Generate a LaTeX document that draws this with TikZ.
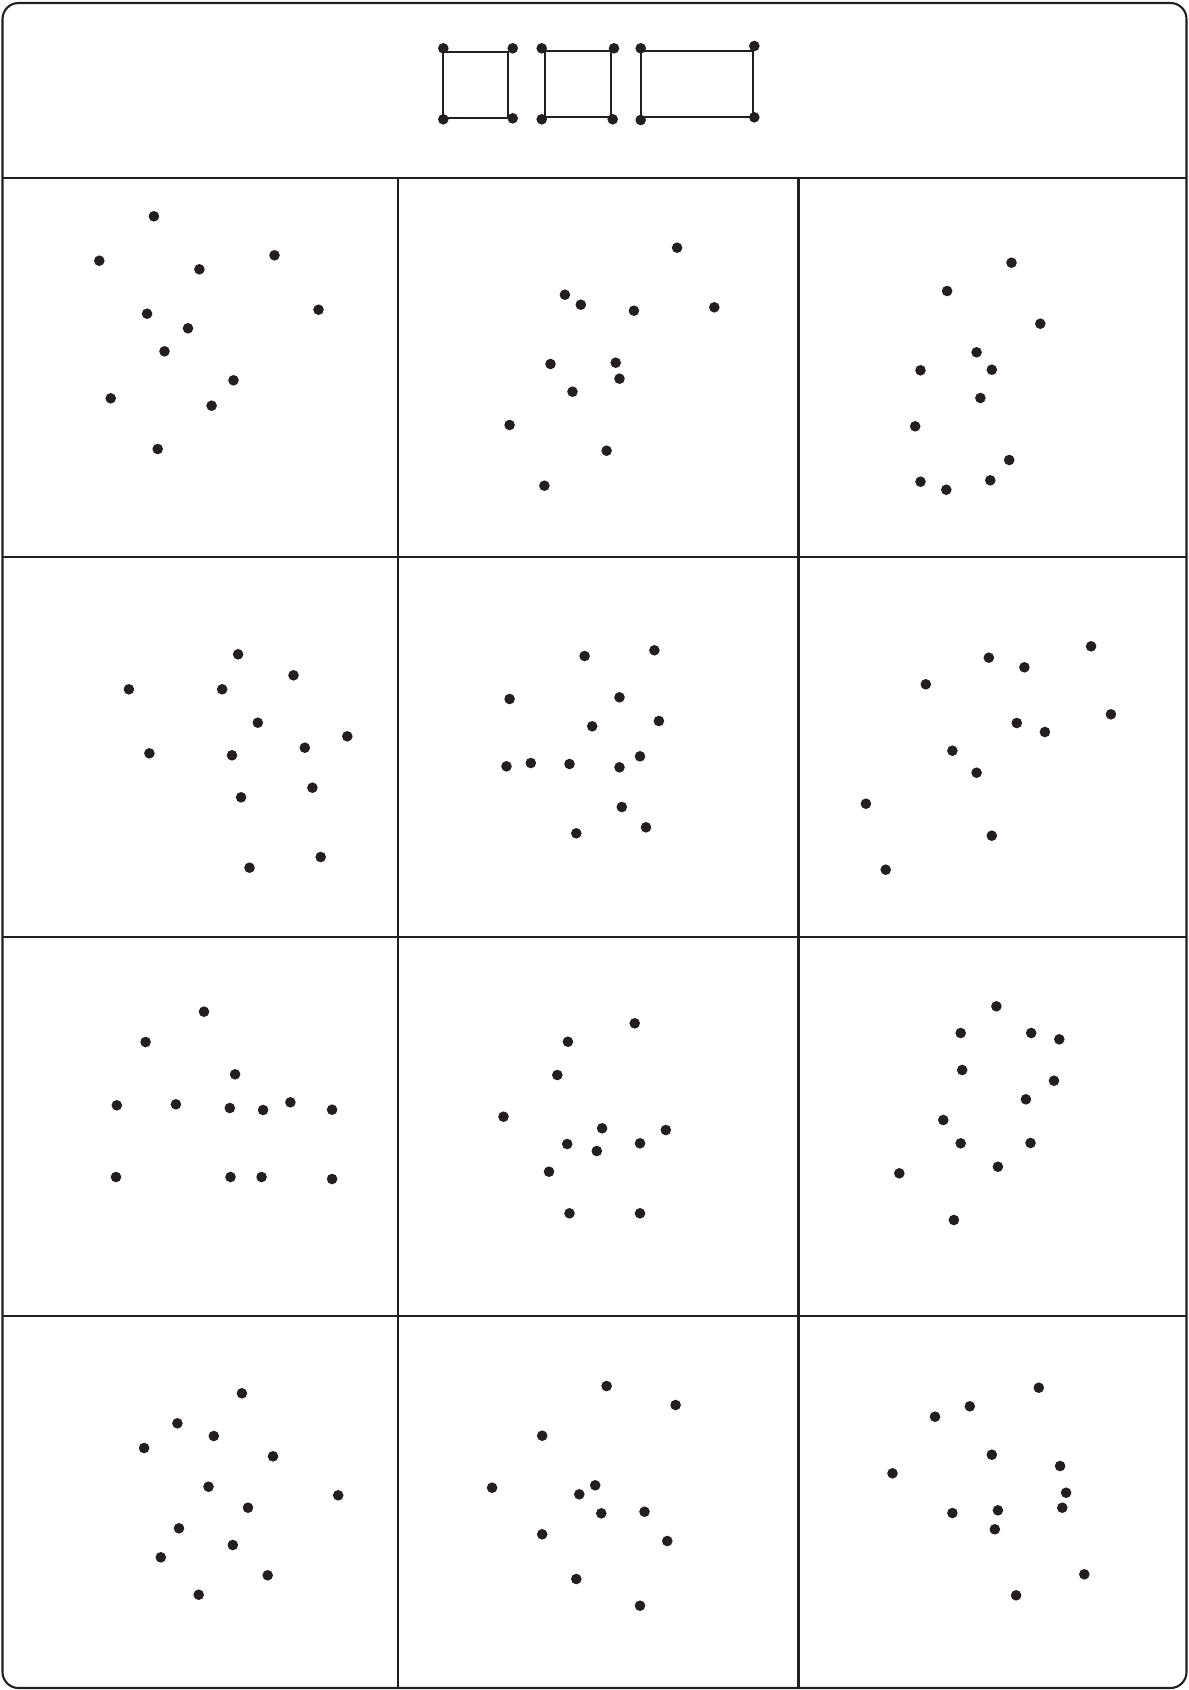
\documentclass[tikz,border=0pt]{standalone}
\definecolor{ink}{HTML}{231F20}
\tikzset{
  pt/.style={circle,fill=ink,draw=none,inner sep=0pt,minimum size=10.6pt},
  gridline/.style={draw=ink,line width=2.2pt},
  frameline/.style={draw=ink,line width=2.1pt,rounded corners=16pt},
  rectline/.style={draw=ink,line width=2.1pt}
}
\begin{document}
\begin{tikzpicture}[x=1pt,y=-1pt]
\useasboundingbox (0,0) rectangle (1189,1690);
% frame and grid
\draw[frameline] (2.5,3) rectangle (1186.5,1688);
\draw[gridline] (2.5,178.3) -- (1186.5,178.3);
\draw[gridline] (2.5,557) -- (1186.5,557);
\draw[gridline] (2.5,937) -- (1186.5,937);
\draw[gridline] (2.5,1316) -- (1186.5,1316);
\draw[gridline] (398.3,178) -- (398.3,1689);
\draw[gridline] (798.5,178) -- (798.5,1689);
% header rectangles
\coordinate (r1a) at (443.3,51.7); \coordinate (r1b) at (508.3,118.3);
\coordinate (r2a) at (545,51); \coordinate (r2b) at (610.7,117.3);
\coordinate (r3a) at (641,51); \coordinate (r3b) at (753.3,117.3);
\draw[rectline] (r1a) rectangle (r1b);
\draw[rectline] (r2a) rectangle (r2b);
\draw[rectline] (r3a) rectangle (r3b);
\foreach \x/\y [count=\i] in {443.3/48.3,512.7/48.3,443.3/119.3,512.7/118.3,
  541.7/48.3,614/48.3,541.7/119.3,612.7/119.3,
  640.7/48.3,754.3/46,640.7/120,754.3/117.3}
  \node[pt] (h\i) at (\x,\y) {};
% row 1
\foreach \x/\y [count=\i] in {153.9/216.3,99.3/260.7,274.5/255.3,199.4/269.3,147.1/313.7,318.5/309.7,188.0/328.3,164.5/351.3,233.5/380.3,110.7/398.3,211.6/405.7,157.7/449}
  \node[pt] (a\i) at (\x,\y) {};
\foreach \x/\y [count=\i] in {677.1/247.7,564.9/294.7,580.8/304.7,633.9/310.7,714.3/307.3,550.5/364,615.7/362.7,619.5/378.7,572.5/391.7,509.6/425,606.6/450.7,544.4/485.7}
  \node[pt] (b\i) at (\x,\y) {};
\foreach \x/\y [count=\i] in {1011.5/262.7,947.1/291,1040.3/323.7,976.6/352.3,920.5/370.3,991.8/369.7,980.4/398,915.2/426.3,1009.2/460,920.5/481.7,946.3/489.7,990.3/480.3}
  \node[pt] (c\i) at (\x,\y) {};
% row 2
\foreach \x/\y [count=\i] in {238.1/654.3,293.5/675.3,128.9/689.3,222.2/689.3,257.8/722.7,347.3/736.3,149.4/753.3,232.0/755.3,304.8/747.7,312.4/787.7,241.1/797.3,320.7/857,249.5/867.7}
  \node[pt] (d\i) at (\x,\y) {};
\foreach \x/\y [count=\i] in {584.6/656,654.4/650.3,509.6/699,619.5/697.3,592.2/726.3,658.9/721,506.5/766.3,530.8/763,569.5/764,619.5/767.3,640.0/756.3,621.8/807,646.0/827.3,576.3/833.3}
  \node[pt] (e\i) at (\x,\y) {};
\foreach \x/\y [count=\i] in {1091.1/646.3,988.8/657.7,1024.4/667.3,925.8/684.3,1110.9/714.3,1016.8/723,1044.9/732,952.4/750.7,976.6/772.7,865.9/803.7,991.8/835.7,885.7/869.7}
  \node[pt] (f\i) at (\x,\y) {};
% row 3
\foreach \x/\y [count=\i] in {204.0/1011.7,145.6/1042,235.1/1074.3,116.8/1105.3,175.9/1104.3,229.8/1108,263.1/1110,290.4/1102.3,332.1/1109.7,116.0/1177,230.5/1177,261.6/1177,332.1/1179}
  \node[pt] (g\i) at (\x,\y) {};
\foreach \x/\y [count=\i] in {634.7/1023.3,567.9/1041.7,557.3/1075,503.5/1116.7,602.1/1128.3,665.8/1130,567.2/1144,596.8/1151,640.0/1143.3,549.0/1171.7,569.5/1213.3,640.0/1213.3}
  \node[pt] (k\i) at (\x,\y) {};
\foreach \x/\y [count=\i] in {996.4/1006.3,960.7/1033,1031.2/1033,1059.3/1039.3,962.2/1070,1054.0/1080.7,1025.9/1099.3,943.3/1120,960.7/1143.3,1030.5/1143,997.9/1166.7,899.3/1173.3,953.9/1220}
  \node[pt] (m\i) at (\x,\y) {};
% row 4
\foreach \x/\y [count=\i] in {241.9/1393.3,177.4/1423.3,213.8/1436,144.1/1448,273.0/1456.3,208.5/1486.7,338.2/1495.3,248.0/1507.7,179.0/1528.3,232.8/1545,160.8/1557.3,267.7/1575.3,198.7/1594.7}
  \node[pt] (n\i) at (\x,\y) {};
\foreach \x/\y [count=\i] in {606.6/1386,675.6/1405,542.2/1435.7,492.1/1487.7,595.2/1485.3,579.3/1494.3,601.3/1513.3,644.5/1511.7,542.2/1534.3,667.3/1541,576.3/1579,640.0/1605.7}
  \node[pt] (p\i) at (\x,\y) {};
\foreach \x/\y [count=\i] in {1038.8/1387.7,969.8/1406.3,935.0/1416.7,991.8/1454.7,1060.1/1466,892.5/1473.3,1066.1/1492.7,1062.3/1507.7,997.9/1510.3,952.4/1513,994.8/1529.3,1084.3/1574.3,1016.1/1595.3}
  \node[pt] (q\i) at (\x,\y) {};
\end{tikzpicture}
\end{document}
